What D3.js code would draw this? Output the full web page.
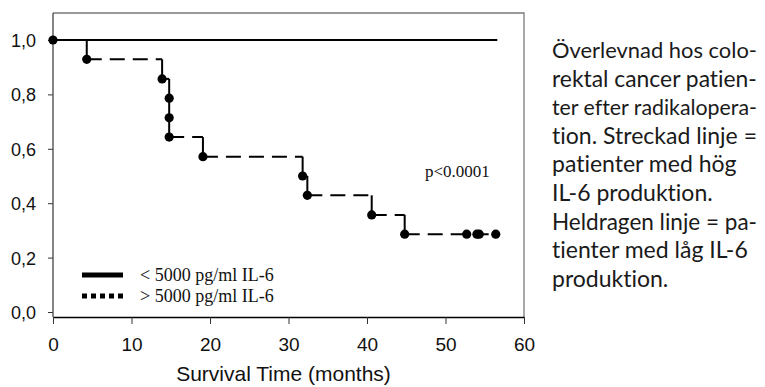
<!DOCTYPE html>
<html>
<head>
<meta charset="utf-8">
<script src="https://cdn.jsdelivr.net/npm/d3@7"></script>
<style>
  body { margin: 0; background: #fff; }
  svg { display: block; }
</style>
</head>
<body>
<svg id="km" width="765" height="387"></svg>
<script>
/* global d3 */

// high IL-6 group (dashed): event times and survival after each event
const highTimes = [0, 4.3, 13.9, 14.8, 14.8, 14.8, 19.1, 31.8, 32.4, 40.6, 44.8];
const highSurv = [1.0, 0.929, 0.857, 0.786, 0.714, 0.643, 0.571, 0.5, 0.429, 0.357, 0.286];
// censored patients at end of follow-up
const censorTimes = [52.7, 54.0, 54.3, 56.4];
const censorSurv = [0.286, 0.286, 0.286, 0.286];

// low IL-6 group (solid): nobody died
const lowTimes = [0, 56.6];
const lowSurv = [1.0, 1.0];

const xTicks = [0, 10, 20, 30, 40, 50, 60];
const yTicks = [0, 0.2, 0.4, 0.6, 0.8, 1.0];

const legendLabels = ["< 5000 pg/ml IL-6", "> 5000 pg/ml IL-6"];
const pLabel = "p<0.0001";
const xTitle = "Survival Time (months)";

const captionLines = [
  "Överlevnad hos colo-",
  "rektal cancer patien-",
  "ter efter radikalopera-",
  "tion. Streckad linje =",
  "patienter med hög",
  "IL-6 produktion.",
  "Heldragen linje = pa-",
  "tienter med låg IL-6",
  "produktion."
];
const justified = [true, true, true, true, false, false, true, false, false];

// plot frame
let frame = { left: 53, right: 524, top: 13, axisY: 317 };

let x = d3.scaleLinear().domain([0, 60]).range([frame.left, frame.right]);
let y = d3.scaleLinear().domain([0, 1]).range([312, 40]);

const svLocale = d3.formatLocale({ decimal: ",", thousands: " ", grouping: [3], currency: ["", " kr"] });

let svg = d3.select("#km");

// gray frame (top + right)
svg.append("path")
  .attr("d", "M" + frame.left + "," + frame.top + "H" + frame.right + "V" + frame.axisY)
  .attr("fill", "none")
  .attr("stroke", "#7a7a7a")
  .attr("stroke-width", 1.3);

// y axis
let yAxis = d3.axisLeft(y).tickValues(yTicks).tickSize(5).tickSizeOuter(0)
  .tickFormat(svLocale.format(".1f"));
let gy = svg.append("g")
  .attr("transform", "translate(" + frame.left + ",0)")
  .call(yAxis);
gy.select(".domain").remove();
gy.selectAll(".tick line").attr("stroke", "#333");
gy.selectAll(".tick text")
  .attr("x", -17)
  .attr("dy", "0.36em")
  .style("font-family", "'Liberation Sans', Arial, sans-serif")
  .style("font-size", "18px")
  .attr("fill", "#111");

svg.append("line")
  .attr("x1", frame.left).attr("x2", frame.left)
  .attr("y1", frame.top).attr("y2", frame.axisY)
  .attr("stroke", "#444").attr("stroke-width", 1.3);

// x axis
let xAxis = d3.axisBottom(x).tickValues(xTicks).tickSize(7).tickSizeOuter(0);
let gx = svg.append("g")
  .attr("transform", "translate(0," + frame.axisY + ")")
  .call(xAxis);
gx.select(".domain").attr("stroke", "#000").attr("stroke-width", 1.5);
gx.selectAll(".tick line").attr("stroke", "#333");
gx.selectAll(".tick text")
  .attr("y", 21)
  .attr("dy", "0.71em")
  .style("font-family", "'Liberation Sans', Arial, sans-serif")
  .style("font-size", "19px")
  .attr("fill", "#111");

svg.append("text")
  .attr("x", (x(0) + x(60)) / 2 - 5)
  .attr("y", 381)
  .attr("text-anchor", "middle")
  .style("font-family", "'Liberation Sans', Arial, sans-serif")
  .style("font-size", "21px")
  .attr("fill", "#111")
  .text(xTitle);

// low group: solid line
let line = d3.line().x((d) => x(d[0])).y((d) => y(d[1]));
let lowPts = lowTimes.map((t, i) => [t, lowSurv[i]]);
svg.append("path")
  .attr("d", line(lowPts))
  .attr("fill", "none")
  .attr("stroke", "#000")
  .attr("stroke-width", 2);

// high group: dashed horizontals, solid verticals
let lastT = d3.max(censorTimes);
let horiz = [], vert = [];
highTimes.forEach((t, i) => {
  let tNext = i < highTimes.length - 1 ? highTimes[i + 1] : lastT;
  if (tNext > t) horiz.push([[t, highSurv[i]], [tNext, highSurv[i]]]);
  if (i < highTimes.length - 1) vert.push([[tNext, highSurv[i]], [tNext, highSurv[i + 1]]]);
});

svg.selectAll(".hseg").data(horiz).enter().append("path")
  .attr("class", "hseg")
  .attr("d", (d) => line(d))
  .attr("fill", "none")
  .attr("stroke", "#000")
  .attr("stroke-width", 2)
  .attr("stroke-dasharray", "15,8");

svg.selectAll(".vseg").data(vert).enter().append("path")
  .attr("class", "vseg")
  .attr("d", (d) => line(d))
  .attr("fill", "none")
  .attr("stroke", "#000")
  .attr("stroke-width", 2);

let dots = highTimes.map((t, i) => [t, highSurv[i]])
  .concat(censorTimes.map((t, i) => [t, censorSurv[i]]));
svg.selectAll(".dot").data(dots).enter().append("circle")
  .attr("class", "dot")
  .attr("cx", (d) => x(d[0]))
  .attr("cy", (d) => y(d[1]))
  .attr("r", 4.6)
  .attr("fill", "#000");

// p value
svg.append("text")
  .attr("x", 425)
  .attr("y", 177)
  .style("font-family", "'Liberation Serif', 'Times New Roman', serif")
  .style("font-size", "17px")
  .attr("fill", "#111")
  .text(pLabel);

// legend
let legend = svg.append("g").attr("transform", "translate(82,275)");
legendLabels.forEach((lab, i) => {
  legend.append("line")
    .attr("x1", 0).attr("x2", 41)
    .attr("y1", i * 21).attr("y2", i * 21)
    .attr("stroke", "#000")
    .attr("stroke-width", 5)
    .attr("stroke-dasharray", i === 0 ? null : "5,4");
  legend.append("text")
    .attr("x", 58)
    .attr("y", i * 21 + 6)
    .style("font-family", "'Liberation Serif', 'Times New Roman', serif")
    .style("font-size", "18px")
    .attr("fill", "#111")
    .text(lab);
});

// caption on the right (justified block)
let cap = svg.append("g").attr("transform", "translate(552,58)");
let capW = 205;
let capSize = 23;
captionLines.forEach((txt, i) => {
  let t = cap.append("text")
    .attr("x", 0)
    .attr("y", i * 28.6)
    .style("font-family", "Lato, 'Open Sans', sans-serif")
    .style("font-size", capSize + "px")
    .style("font-variant-ligatures", "none")
    .attr("fill", "#1a1a1a")
    .text(txt);
  let len = t.node().getComputedTextLength();
  if (len > capW) {
    t.style("font-size", (capSize * capW / len).toFixed(2) + "px");
  } else if (justified[i]) {
    let gaps = txt.split(" ").length - 1;
    if (gaps > 0) t.style("word-spacing", (capW - len) / gaps + "px");
  }
});
</script>
</body>
</html>
